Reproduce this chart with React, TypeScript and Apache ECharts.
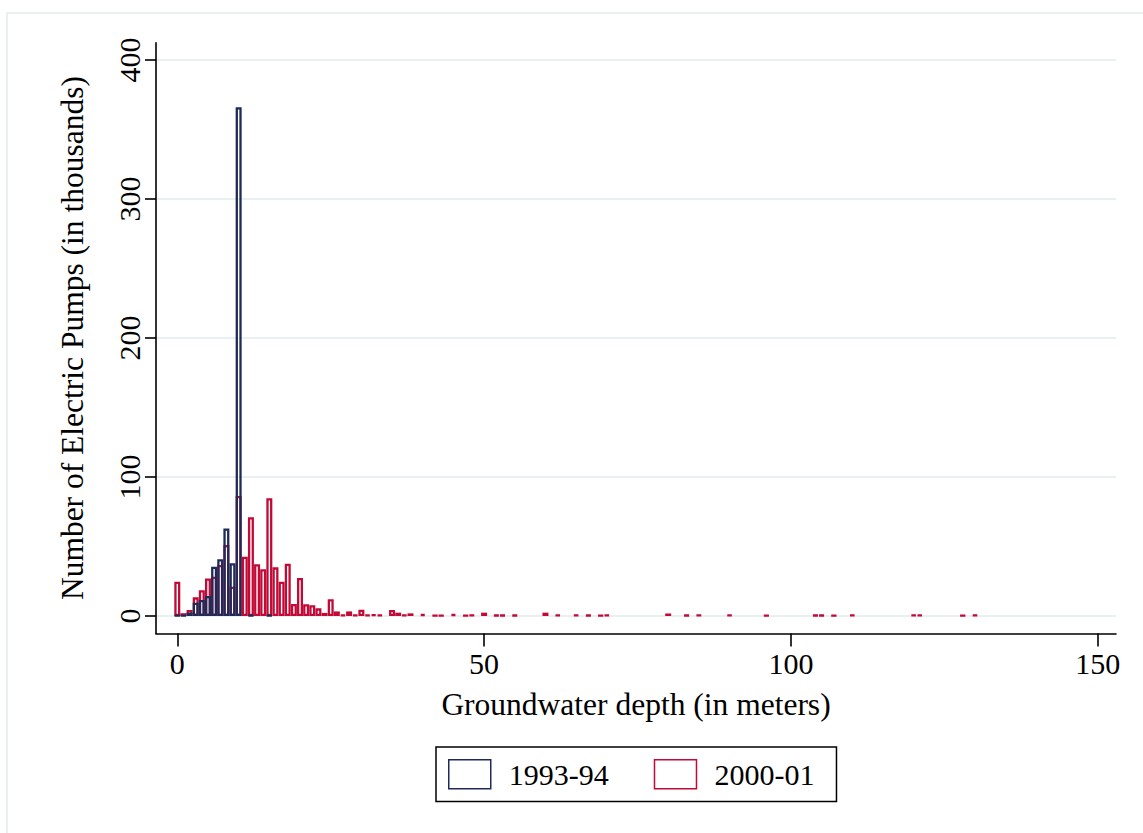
import React, { useEffect, useRef } from "react";
import * as echarts from "echarts";

// 1993-94 histogram (thousands of pumps per 1 m depth bin)
const depths1993 = [0, 1, 2, 3, 4, 5, 6, 7, 8, 9, 10, 12, 15];
const pumps1993 = [0.4, 0.4, 2.5, 9.6, 11.5, 14.4, 35.5, 40.8, 63, 38, 366, 0.5, 0.5];

// 2000-01 histogram
const depths2000 = [
  0, 1, 2, 3, 4, 5, 6, 7, 8, 9, 10, 11, 12, 13, 14, 15, 16, 17, 18, 19, 20, 21, 22, 23, 24, 25,
  26, 27, 28, 29, 30, 31, 32, 33, 35, 36, 37, 38, 40, 42, 43, 45, 47, 48, 50, 52, 53, 55, 60, 62,
  65, 67, 69, 70, 80, 83, 85, 90, 96, 104, 105, 107, 110, 120, 121, 128, 130,
];
const pumps2000 = [
  24.7, 2, 4.3, 13.4, 18.5, 27, 28.3, 36.7, 51, 21, 86.3, 42.7, 71, 37.2, 33.6, 84.7, 35, 24.7,
  37.6, 8.6, 27.3, 8.4, 7.7, 5.5, 2.2, 12, 3.3, 1, 3.3, 1, 4.5, 1, 1.3, 1, 4.3, 2.4, 1, 1.9, 1.4,
  0.5, 0.5, 1.4, 0.5, 0.8, 2.4, 0.7, 0.7, 0.7, 2.4, 1, 1, 0.7, 0.5, 1, 1.8, 0.7, 0.8, 1, 0.6, 0.7,
  0.7, 0.5, 1, 1, 1, 0.5, 1,
];

const xTicks = [0, 50, 100, 150];
const yTicks = [0, 100, 200, 300, 400];

const seriesNames = ["1993-94", "2000-01"];
const NAVY = "#1e2b58";
const RED = "#c30a36";
const FONT = "Liberation Serif";

export default function App() {
  const ref = useRef<HTMLDivElement>(null);
  useEffect(() => {
    if (!ref.current) return;
    const chart = echarts.init(ref.current, null, { renderer: "svg" });
    const pairs = (xs: number[], ys: number[]) => xs.map((x, i) => [x, ys[i]]);
    chart.setOption({
      animation: false,
      backgroundColor: "#ffffff",
      textStyle: { fontFamily: FONT, color: "#000" },
      graphic: [
        {
          type: "rect",
          shape: { x: 7, y: 13, width: 1300, height: 1000 },
          style: { fill: "none", stroke: "#e4ecec", lineWidth: 1.5 },
          silent: true,
          z: -10,
        },
      ],
      grid: { left: 156, right: 27, top: 42.7, bottom: 199.5, containLabel: false },
      xAxis: {
        type: "value",
        min: -3.47,
        max: 152.98,
        name: "Groundwater depth (in meters)",
        nameLocation: "middle",
        nameGap: 55,
        nameTextStyle: { fontSize: 31.5, fontFamily: FONT, color: "#000" },
        axisLine: { show: true, onZero: false, lineStyle: { color: "#000", width: 1.6 } },
        axisTick: { show: true, length: 13, customValues: xTicks, lineStyle: { color: "#000", width: 1.6 } },
        axisLabel: { customValues: xTicks, fontSize: 30, fontFamily: FONT, color: "#000", margin: 15 },
        splitLine: { show: false },
      },
      yAxis: {
        type: "value",
        min: -12.6,
        max: 412.4,
        name: "Number of Electric Pumps (in thousands)",
        nameLocation: "middle",
        nameRotate: 90,
        nameGap: 68,
        nameTextStyle: { fontSize: 31.5, fontFamily: FONT, color: "#000" },
        axisLine: { show: true, onZero: false, lineStyle: { color: "#000", width: 1.6 } },
        axisTick: { show: true, length: 11, customValues: yTicks, lineStyle: { color: "#000", width: 1.6 } },
        axisLabel: { customValues: yTicks, rotate: 90, fontSize: 30, fontFamily: FONT, color: "#000", margin: 12 },
        splitLine: { show: true, lineStyle: { color: "#e9f0f2", width: 2 } },
      },
      legend: {
        left: 436,
        top: 747,
        orient: "horizontal",
        padding: [12, 22, 12, 12],
        borderColor: "#000",
        borderWidth: 1.5,
        itemWidth: 42,
        itemHeight: 29,
        itemGap: 45,
        icon: "rect",
        textStyle: { fontSize: 30, fontFamily: FONT, color: "#000", padding: [0, 0, 0, 13] },
        data: [
          { name: seriesNames[0], itemStyle: { color: "#ffffff", borderColor: NAVY, borderWidth: 1.5 } },
          { name: seriesNames[1], itemStyle: { color: "#ffffff", borderColor: RED, borderWidth: 1.5 } },
        ],
      },
      series: [
        {
          name: seriesNames[1],
          type: "bar",
          data: pairs(depths2000, pumps2000),
          barWidth: 6,
          barGap: "-100%",
          itemStyle: { color: "rgba(0,0,0,0)", borderColor: RED, borderWidth: 2.3 },
          z: 2,
        },
        {
          name: seriesNames[0],
          type: "bar",
          data: pairs(depths1993, pumps1993),
          barWidth: 6,
          barGap: "-100%",
          itemStyle: { color: "rgba(0,0,0,0)", borderColor: NAVY, borderWidth: 2.3 },
          z: 3,
        },
      ],
    });
    return () => chart.dispose();
  }, []);
  return (
    <div
      ref={ref}
      style={{ position: "absolute", left: 0, top: 0, width: 1143, height: 833, background: "#fff" }}
    />
  );
}
